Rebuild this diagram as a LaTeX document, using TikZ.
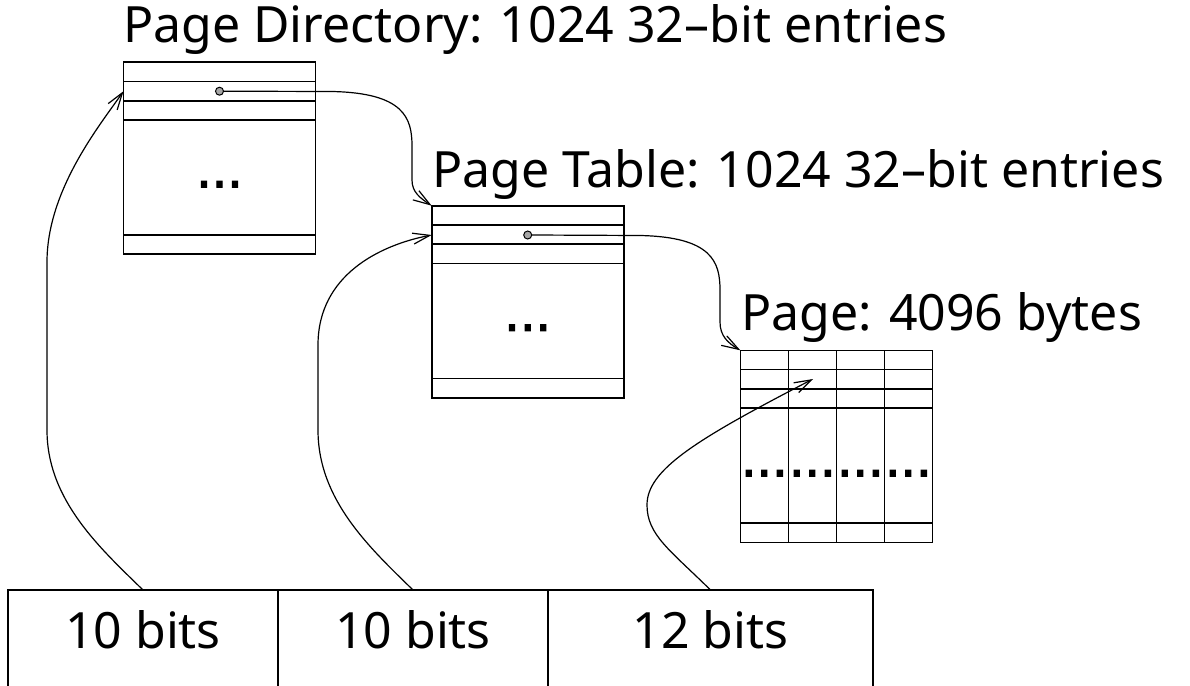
\documentclass[tikz,border=0pt]{standalone}
\usepackage{fontspec}
\setmainfont{Noto Sans}
\newfontfamily\dotfont[FakeBold=2.5]{DejaVu Sans}
\usetikzlibrary{arrows.meta,calc}
\begin{document}
\begin{tikzpicture}[x=1pt,y=-1pt,
  bigtext/.style={font=\fontsize{50}{60}\selectfont},
  title/.style={bigtext, anchor=base west, inner sep=0pt},
  table/.style={draw, line width=1.6pt, minimum width=192pt, minimum height=192pt,
                inner sep=0pt, outer sep=0pt},
  rowline/.style={line width=1.6pt},
  thickrow/.style={line width=2.2pt},
  ellip/.style={font=\dotfont\fontsize{49}{58}\selectfont, anchor=base, inner sep=0pt},
  field/.style={draw, line width=1.6pt, minimum height=200pt, inner sep=0pt, outer sep=0pt,
                anchor=north west},
  ptr/.style={circle, draw, line width=1pt, fill=gray!70, minimum size=8pt, inner sep=0pt},
  link/.style={line width=1.2pt, -{Straight Barb[length=17pt,width=11pt,line width=1.2pt]}}
]
\useasboundingbox (0,0) rectangle (1190,685);
\clip (0,0) rectangle (1190,685);

% ---- titles ----
\node[title] (tdir)  at (123,43)  {Page Directory: 1024 32–bit entries};
\node[title] (ttbl)  at (432,187) {Page Table: 1024 32–bit entries};
\node[title] (tpage) at (741,330) {Page: 4096 bytes};

% ---- page directory ----
\node[table] (dir) at (219.5,158.2) {};
\draw[rowline]  ($(dir.north west)+(0,19.3)$) -- ($(dir.north east)+(0,19.3)$);
\draw[thickrow] ($(dir.north west)+(0,38.6)$) -- ($(dir.north east)+(0,38.6)$);
\draw[rowline]  ($(dir.north west)+(0,57.9)$) -- ($(dir.north east)+(0,57.9)$);
\draw[rowline]  ($(dir.south west)+(0,-19.3)$) -- ($(dir.south east)+(0,-19.3)$);
\node[ellip] (dirdots) at ($(dir.north)+(0,125)$) {...};
\node[ptr] (dirptr) at ($(dir.north)+(0,29)$) {};

% ---- page table ----
\node[table] (tbl) at (527.7,301.7) {};
\draw[rowline]  ($(tbl.north west)+(0,19.3)$) -- ($(tbl.north east)+(0,19.3)$);
\draw[thickrow] ($(tbl.north west)+(0,38.6)$) -- ($(tbl.north east)+(0,38.6)$);
\draw[rowline]  ($(tbl.north west)+(0,57.9)$) -- ($(tbl.north east)+(0,57.9)$);
\draw[rowline]  ($(tbl.south west)+(0,-19.3)$) -- ($(tbl.south east)+(0,-19.3)$);
\node[ellip] (tbldots) at ($(tbl.north)+(0,125)$) {...};
\node[ptr] (tblptr) at ($(tbl.north)+(0,29.3)$) {};

% ---- page ----
\node[table] (page) at (836.3,446.3) {};
\draw[rowline]  ($(page.north west)+(0,19.3)$) -- ($(page.north east)+(0,19.3)$);
\draw[thickrow] ($(page.north west)+(0,38.6)$) -- ($(page.north east)+(0,38.6)$);
\draw[rowline]  ($(page.north west)+(0,57.9)$) -- ($(page.north east)+(0,57.9)$);
\draw[rowline]  ($(page.south west)+(0,-19.3)$) -- ($(page.south east)+(0,-19.3)$);
\foreach \c in {1,2,3}
  \draw[rowline] ($(page.north west)+(48*\c,0)$) -- ($(page.south west)+(48*\c,0)$);
\foreach \c in {0,1,2,3}
  \node[ellip] at ($(page.north west)+(24+48*\c,126)$) {...};
\coordinate (pagein) at (813,379);

% ---- linear address fields ----
\node[field, minimum width=270pt] (f1) at (8,590) {};
\node[field, minimum width=270pt] (f2) at (f1.north east) {};
\node[field, minimum width=325pt] (f3) at (f2.north east) {};
\node[bigtext, anchor=base, inner sep=0pt] at ($(f1.north)+(0,58)$) {10 bits};
\node[bigtext, anchor=base, inner sep=0pt] at ($(f2.north)+(0,58)$) {10 bits};
\node[bigtext, anchor=base, inner sep=0pt] at ($(f3.north)+(0,58)$) {12 bits};

% ---- index arrows ----
\coordinate (dirin) at ($(dir.north west)+(0,29)$);
\coordinate (tblin) at ($(tbl.north west)+(0,29.3)$);
\draw[link] (f1.north) .. controls (100,548) and (47,500) .. (47,430)
  -- (47,262) .. controls (47,190) and (100,125) .. (dirin);
\draw[link] (f2.north) .. controls (370,548) and (318,500) .. (318,430)
  -- (318,345) .. controls (318,275) and (380,245) .. (tblin);
\draw[link] (f3.north) .. controls (670,550) and (647,535) .. (647,505)
  .. controls (647,470) and (695,440) .. (pagein);

% ---- pointer arrows ----
\draw[link] (dirptr.east) -- (332,91.5) .. controls (404,93) and (412,118) .. (412,146)
  -- (412,180) .. controls (412,192) and (420,198) .. (tbl.north west);
\draw[link] (tblptr.east) -- (640,235.5) .. controls (712,237) and (720,262) .. (720,290)
  -- (720,322) .. controls (720,336) and (728,343) .. (page.north west);
\end{tikzpicture}
\end{document}
